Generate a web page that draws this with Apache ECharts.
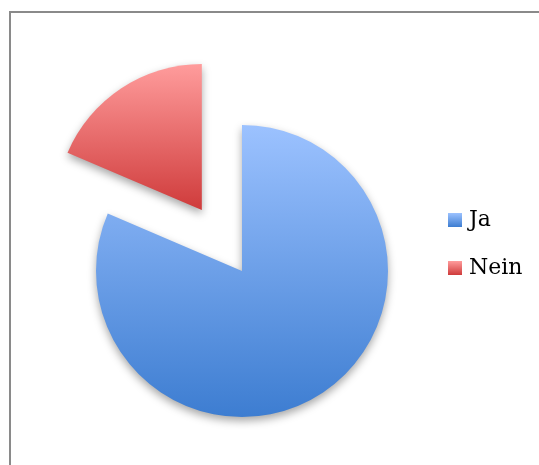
<!DOCTYPE html>
<html>
<head>
<meta charset="utf-8">
<script src="https://cdn.jsdelivr.net/npm/echarts@6/dist/echarts.min.js"></script>
<style>
  html, body { margin: 0; padding: 0; background: #fff; }
  #main { width: 539px; height: 465px; }
</style>
</head>
<body>
<div id="main"></div>
<script>
// Antworten
var categories = ['Ja', 'Nein'];
var values = [57, 13];
// gradient colours, top -> bottom
var topColors = ['#9cc2ff', '#ff9c9c'];
var bottomColors = ['#3d7dd1', '#cf3b3b'];

var chart = echarts.init(document.getElementById('main'), null, { renderer: 'canvas' });

var pieData = categories.map(function (name, i) {
  return {
    name: name,
    value: values[i],
    selected: name === 'Nein',
    itemStyle: {
      color: new echarts.graphic.LinearGradient(0, 0, 0, 1, [
        { offset: 0, color: topColors[i] },
        { offset: 1, color: bottomColors[i] }
      ])
    }
  };
});

var option = {
  backgroundColor: '#ffffff',
  animation: false,
  graphic: [{
    type: 'rect',
    shape: { x: 10, y: 12, width: 700, height: 700 },
    style: { fill: 'none', stroke: '#8a8a8a', lineWidth: 2 },
    silent: true
  }],
  legend: {
    orient: 'vertical',
    left: 443,
    top: 202,
    icon: 'rect',
    itemWidth: 14,
    itemHeight: 14,
    itemGap: 22,
    selectedMode: false,
    data: categories,
    textStyle: {
      fontFamily: 'DejaVu Serif',
      fontSize: 22,
      lineHeight: 26,
      padding: [0, 0, 0, 2],
      color: '#000'
    }
  },
  series: [{
    type: 'pie',
    center: [242, 271],
    radius: 146,
    startAngle: 90,
    clockwise: true,
    selectedMode: 'single',
    selectedOffset: 73,
    label: { show: false },
    labelLine: { show: false },
    emphasis: { disabled: true },
    itemStyle: {
      shadowBlur: 8,
      shadowOffsetY: 4,
      shadowColor: 'rgba(0,0,0,0.35)'
    },
    data: pieData
  }]
};

chart.setOption(option);
</script>
</body>
</html>
